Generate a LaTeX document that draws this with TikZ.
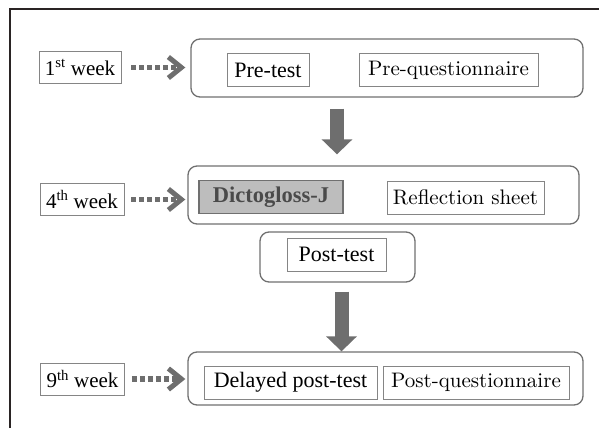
\documentclass[tikz,border=0pt]{standalone}
\usepackage{fontspec}
\setmainfont{Liberation Serif}
\newfontfamily\lmfont{lmroman10-regular.otf}
\usetikzlibrary{arrows.meta,positioning}

\definecolor{framecol}{HTML}{2A2424}
\definecolor{boxcol}{HTML}{707070}
\definecolor{itemcol}{HTML}{858585}
\definecolor{arrowcol}{HTML}{6E6E6E}
\definecolor{dgfill}{HTML}{BDBDBD}
\definecolor{dgtext}{HTML}{4A4A4A}

\begin{document}
\begin{tikzpicture}
  [x=1pt,y=-1pt,
   every node/.style={font=\fontsize{22}{25}\selectfont,inner sep=0pt},
   weekN/.style={draw=itemcol,line width=0.6pt,minimum height=32pt,inner xsep=6pt,
     font=\fontsize{21}{24}\selectfont},
   stageN/.style={draw=boxcol,line width=1.3pt,rounded corners=9pt},
   itemN/.style={draw=itemcol,line width=0.6pt,minimum height=33pt},
   dotarrow/.style={draw=arrowcol,line width=5.5pt,dash pattern=on 5pt off 3pt,
     -{Straight Barb[length=13pt,width=21pt,line width=5pt]}},
   blockarrow/.style={draw=arrowcol,line width=14pt,
     -{Triangle[length=15pt,width=30pt]}}]

  \useasboundingbox (0,0) rectangle (599,428);
  \draw[framecol,line width=1.5pt] (10,428) -- (10,9) -- (599,9);

  % week labels
  \node[weekN] (w1) at (80,67.5) {1\textsuperscript{st} week};
  \node[weekN] (w4) at (82,199.5) {4\textsuperscript{th} week};
  \node[weekN] (w9) at (82.5,379) {9\textsuperscript{th} week};

  % stages
  \node[stageN,minimum width=392pt,minimum height=58pt] (s1) at (387,68) {};
  \node[stageN,minimum width=391pt,minimum height=58pt] (s2) at (383.5,195) {};
  \node[stageN,minimum width=155pt,minimum height=50pt] (s2b) at (337.5,257) {};
  \node[stageN,minimum width=395pt,minimum height=53pt] (s3) at (385.5,378.5) {};

  % contents
  \node[itemN,minimum width=82pt] (pre) at (268,70) {Pre-test};
  \node[itemN,minimum width=179pt] (preq) at (448.5,70) {\lmfont\fontsize{21}{24}\selectfont Pre-questionnaire};
  \node[itemN,draw=boxcol,line width=1.6pt,fill=dgfill,text=dgtext,
    minimum width=144pt,font=\fontsize{22.5}{25}\selectfont\bfseries] (dg) at (271,197) {Dictogloss-J};
  \node[itemN,minimum width=157pt] (refl) at (465.5,197.5) {\lmfont\fontsize{21}{24}\selectfont Reflection sheet};
  \node[itemN,minimum width=99pt] (post) at (336.5,254.5) {Post-test};
  \node[itemN,minimum width=173pt] (dpost) at (290.5,382.5) {Delayed post-test};
  \node[itemN,minimum width=186pt] (postq) at (476,382.5) {\lmfont\fontsize{21}{24}\selectfont Post-questionnaire};

  % arrows
  \draw[dotarrow,shorten <=10pt,shorten >=5pt] (w1) -- (w1 -| s1.west);
  \draw[dotarrow,shorten <=7pt,shorten >=2pt] (w4) -- (w4 -| s2.west);
  \draw[dotarrow,shorten <=7pt,shorten >=2pt] (w9) -- (w9 -| s3.west);

  \draw[blockarrow,shorten <=11pt,shorten >=11pt]
    ([xshift=-50pt]s1.south) -- ([xshift=-50pt]s1.south |- s2.north);
  \draw[blockarrow,shorten <=9pt]
    ([xshift=4pt]s2b.south) -- ([xshift=4pt]s2b.south |- s3.north);

\end{tikzpicture}
\end{document}
